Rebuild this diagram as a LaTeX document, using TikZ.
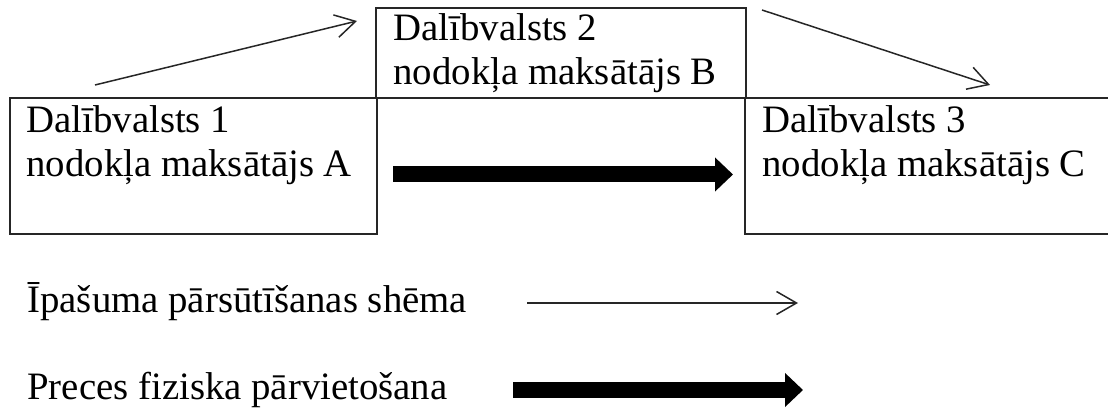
\documentclass[tikz,border=0pt]{standalone}
\usepackage{fontspec}
\setmainfont{Liberation Serif}
\usetikzlibrary{arrows.meta}
\tikzset{
  party/.style={draw=black!85, line width=0.75pt, rectangle, inner sep=0pt, outer sep=0pt},
  label/.style={font=\fontsize{19.4}{22.2}\selectfont, align=left, inner sep=0pt, anchor=base west},
  ownership/.style={draw=black!85, line width=0.75pt, -{Straight Barb[length=10pt, width=11.5pt]}},
  movement/.style={draw=black, line width=8pt, -{Triangle[length=9pt, width=16.5pt]}},
}
\begin{document}
\begin{tikzpicture}[x=0.5pt, y=-0.5pt]
  \useasboundingbox (0,0) rectangle (1108,410);
  \clip (0,0) rectangle (1108,410);

  % member state boxes
  \node[party, minimum width=183.5pt, minimum height=68pt] (a) at (193.5,166) {};
  \node[party, minimum width=185pt, minimum height=45pt] (b) at (561,53) {};
  \node[party, minimum width=192.5pt, minimum height=68pt] (c) at (937.5,166) {};

  % box texts (anchored at the baseline of the last line)
  \node[label] (ta) at (26,177) {Dalībvalsts 1\\nodokļa maksātājs A};
  \node[label] (tb) at (393,85) {Dalībvalsts 2\\nodokļa maksātājs B};
  \node[label] (tc) at (762,177) {Dalībvalsts 3\\nodokļa maksātājs C};

  % transfer of ownership A -> B -> C
  \coordinate (o1s) at (95,85);
  \coordinate (o1e) at (357,21);
  \coordinate (o2s) at (762,10);
  \coordinate (o2e) at (990,85);
  \draw[ownership] (o1s) -- (o1e);
  \draw[ownership] (o2s) -- (o2e);

  % physical movement A -> C
  \coordinate (m1s) at (393,174.5);
  \coordinate (m1e) at (733,174.5);
  \draw[movement] (m1s) -- (m1e);

  % legend
  \node[label] (l1) at (27,313) {Īpašuma pārsūtīšanas shēma};
  \node[label] (l2) at (27,400) {Preces fiziska pārvietošana};
  \coordinate (k1s) at (527,303);
  \coordinate (k1e) at (798,303);
  \coordinate (k2s) at (513,390);
  \coordinate (k2e) at (803,390);
  \draw[ownership] (k1s) -- (k1e);
  \draw[movement] (k2s) -- (k2e);
\end{tikzpicture}
\end{document}
